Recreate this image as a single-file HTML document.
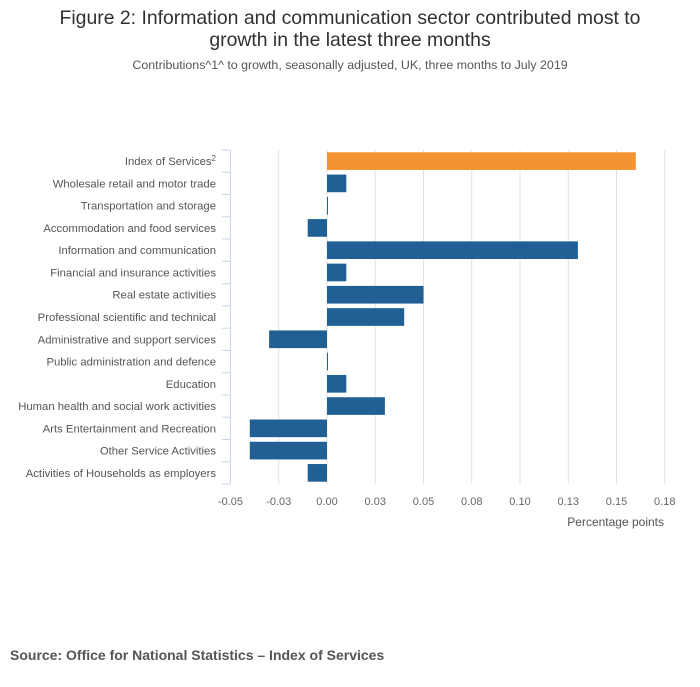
<!DOCTYPE html>
<html><head><meta charset="utf-8"><style>
body{margin:0;background:#fff;font-family:"Liberation Sans",sans-serif;}
</style></head><body>
<svg width="700" height="682" xmlns="http://www.w3.org/2000/svg" style="font-family:'Liberation Sans',sans-serif">
<text x="350" y="24" text-anchor="middle" font-size="19.4" fill="#323132">Figure 2: Information and communication sector contributed most to</text>
<text x="350" y="46" text-anchor="middle" font-size="19.4" fill="#323132">growth in the latest three months</text>
<text x="350" y="69" text-anchor="middle" font-size="12.4" fill="#555">Contributions^1^ to growth, seasonally adjusted, UK, three months to July 2019</text>
<g id="grid"></g><g id="bars"></g><g id="axes"></g>
<text x="664" y="526" text-anchor="end" font-size="12" fill="#555">Percentage points</text>
<text x="10" y="660" font-size="14" font-weight="bold" fill="#555">Source: Office for National Statistics – Index of Services</text>
</svg>
<script>
const categories=["Index of Services","Wholesale retail and motor trade","Transportation and storage","Accommodation and food services","Information and communication","Financial and insurance activities","Real estate activities","Professional scientific and technical","Administrative and support services","Public administration and defence","Education","Human health and social work activities","Arts Entertainment and Recreation","Other Service Activities","Activities of Households as employers"];
const values=[0.16,0.01,0.0005,-0.01,0.13,0.01,0.05,0.04,-0.03,0.0005,0.01,0.03,-0.04,-0.04,-0.01];
const tickValues=[-0.05,-0.025,0,0.025,0.05,0.075,0.1,0.125,0.15,0.175];
const tickLabels=["-0.05","-0.03","0.00","0.03","0.05","0.08","0.10","0.13","0.15","0.18"];
const NS="http://www.w3.org/2000/svg";
const xs=v=>327+v*1930;
const plotTop=150,plotBottom=484,step=(plotBottom-plotTop)/categories.length;
const ys=i=>plotTop+i*step;
function mk(tag,attrs,parent){const e=document.createElementNS(NS,tag);for(const k in attrs)e.setAttribute(k,attrs[k]);document.getElementById(parent).appendChild(e);return e;}
tickValues.forEach((t,i)=>{
  if(i>0){const g=mk('line',{x1:xs(t),x2:xs(t),y1:plotTop,y2:plotBottom,stroke:'#e2e2e3','stroke-width':1},'grid');
  
  }
  const l=mk('text',{x:xs(t),y:505,'text-anchor':'middle','font-size':11,fill:'#666'},'axes');
  l.textContent=tickLabels[i];
  
  
});
const ax=mk('line',{x1:230.5,x2:230.5,y1:plotTop,y2:plotBottom,stroke:'#ccd6eb','stroke-width':1},'axes');


for(let i=0;i<=categories.length;i++){
  const tk=mk('line',{x1:222,x2:230.5,y1:ys(i),y2:ys(i),stroke:'#ccd6eb','stroke-width':1},'axes');
  
  
}
categories.forEach((c,i)=>{
  const t=mk('text',{x:216,y:ys(i)+step/2+4,'text-anchor':'end','font-size':11.3,fill:'#555'},'axes');
  t.textContent=c;
  if(i===0){const s=document.createElementNS(NS,'tspan');s.setAttribute('dy','-4');s.setAttribute('font-size','8');s.textContent='2';t.appendChild(s);}
  
  
  const v=values[i];const x0=Math.min(xs(0),xs(v));const w=Math.max(Math.abs(xs(v)-xs(0)),1);
  const r=mk('rect',{x:x0,y:ys(i)+2.3,width:w,height:step-4.6,fill:i===0?'#f39431':'#206095'},'bars');
  
  
});
</script>
</body></html>
